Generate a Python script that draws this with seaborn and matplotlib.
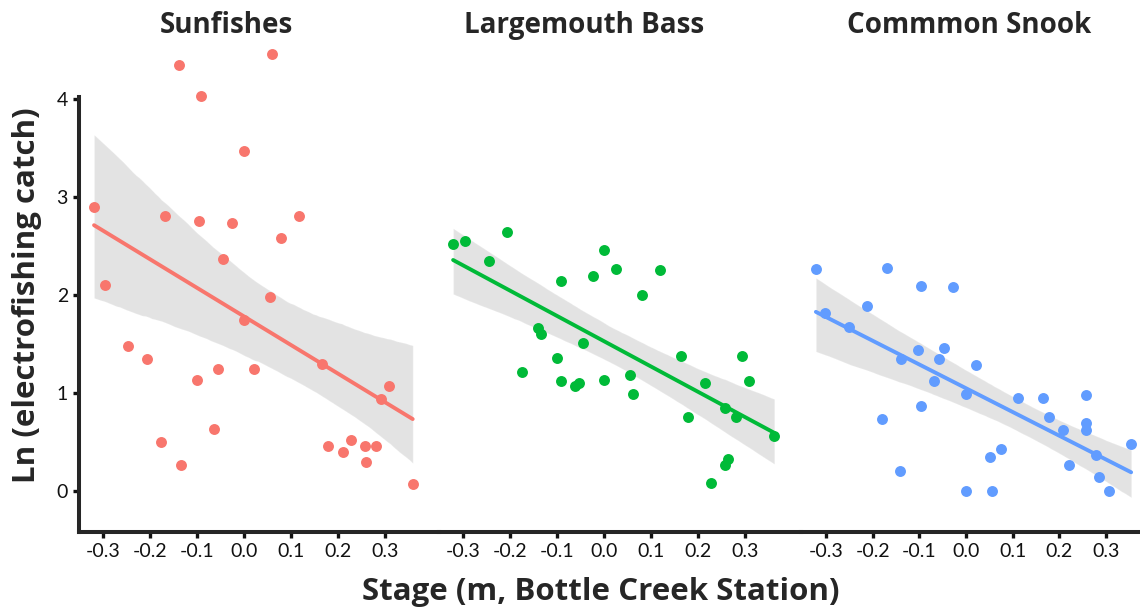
import numpy as np
import pandas as pd
import seaborn as sns
import matplotlib.pyplot as plt

# values
species = ['Sunfishes', 'Largemouth Bass', 'Commmon Snook']
colours = ['#F8766D', '#00BA38', '#619CFF']

sun_x = [-0.138, 0.060, -0.091, 0.001, -0.319, -0.167, -0.095, -0.026, 0.117, 0.078,
         -0.045, -0.295, 0.055, 0.001, -0.246, -0.207, -0.055, 0.021, -0.099, 0.167,
         0.309, 0.291, -0.064, -0.176, -0.133, 0.179, 0.210, 0.228, 0.257, 0.280,
         0.260, 0.359]
sun_y = [4.35, 4.46, 4.03, 3.47, 2.90, 2.81, 2.76, 2.73, 2.81, 2.58,
         2.37, 2.10, 1.98, 1.74, 1.48, 1.35, 1.25, 1.24, 1.13, 1.30,
         1.07, 0.94, 0.63, 0.50, 0.27, 0.46, 0.40, 0.52, 0.46, 0.46,
         0.30, 0.07]

bass_x = [-0.321, -0.296, -0.206, -0.244, 0.001, 0.026, -0.024, -0.091, 0.120, 0.080,
          -0.140, -0.133, -0.045, -0.099, -0.175, -0.091, -0.061, -0.054, 0.001, 0.056,
          0.062, 0.164, 0.294, 0.214, 0.308, 0.257, 0.281, 0.179, 0.362, 0.263,
          0.257, 0.227]
bass_y = [2.52, 2.55, 2.64, 2.35, 2.46, 2.27, 2.19, 2.14, 2.25, 2.00,
          1.66, 1.60, 1.51, 1.36, 1.21, 1.12, 1.07, 1.10, 1.13, 1.18,
          0.99, 1.38, 1.38, 1.10, 1.12, 0.85, 0.76, 0.76, 0.56, 0.33,
          0.27, 0.08]

snook_x = [-0.322, -0.170, -0.097, -0.029, -0.213, -0.303, -0.250, -0.103, -0.047, -0.139,
           -0.057, 0.021, -0.069, -0.001, 0.112, 0.165, 0.257, -0.097, 0.177, -0.181,
           0.257, 0.257, 0.208, 0.354, 0.278, 0.074, 0.051, 0.220, -0.142, 0.286,
           0.307, -0.001, 0.056]
snook_y = [2.27, 2.28, 2.09, 2.08, 1.89, 1.82, 1.67, 1.44, 1.46, 1.35,
           1.35, 1.29, 1.12, 0.99, 0.95, 0.95, 0.98, 0.87, 0.76, 0.74,
           0.69, 0.62, 0.62, 0.48, 0.37, 0.43, 0.35, 0.27, 0.20, 0.14,
           0.00, 0.00, 0.00]

x_ticks = [-0.3, -0.2, -0.1, 0.0, 0.1, 0.2, 0.3]
y_ticks = [0, 1, 2, 3, 4]

df = pd.concat([
    pd.DataFrame({'stage': sun_x, 'catch': sun_y, 'species': species[0]}),
    pd.DataFrame({'stage': bass_x, 'catch': bass_y, 'species': species[1]}),
    pd.DataFrame({'stage': snook_x, 'catch': snook_y, 'species': species[2]}),
])

sns.set_style('ticks')
plt.rcParams['font.family'] = ['Lato', 'DejaVu Sans']
bold_font = ['Open Sans', 'DejaVu Sans']

fig = plt.figure(figsize=(11.4, 6.12), dpi=100)
bottom, height = 0.1307, 0.7108
boxes = [[0.0693, bottom, 0.3158, height],
         [0.3851, bottom, 0.3175, height],
         [0.7026, bottom, 0.2974, height]]
xlims = [(-0.351, 0.415), (-0.351, 0.419), (-0.354, 0.373)]
title_x = [0.199, 0.512, 0.850]

for i, name in enumerate(species):
    ax = fig.add_axes(boxes[i])
    sub = df[df.species == name]
    # grey confidence band first, then points and fitted line on top
    sns.regplot(data=sub, x='stage', y='catch', ax=ax, scatter=False,
                color='#444444', line_kws={'linewidth': 0}, seed=1, n_boot=2000)
    sns.regplot(data=sub, x='stage', y='catch', ax=ax, ci=None, color=colours[i],
                scatter_kws={'s': 62, 'alpha': 1, 'linewidths': 0, 'clip_on': False},
                line_kws={'linewidth': 2.8})
    ax.set_xlim(*xlims[i])
    ax.set_ylim(-0.418, 4.02)
    ax.set_xticks(x_ticks)
    ax.set_xticklabels([f'{t:.1f}' for t in x_ticks])
    ax.set_xlabel('')
    ax.set_ylabel('')
    sns.despine(ax=ax, left=(i > 0))
    ax.spines['bottom'].set_linewidth(2.9)
    ax.spines['left'].set_linewidth(2.9)
    ax.tick_params(axis='x', length=4, width=2.4, labelsize=14, pad=4, colors='#111111')
    if i == 0:
        ax.set_yticks(y_ticks)
        ax.tick_params(axis='y', length=4, width=2.4, labelsize=14, pad=4, colors='#111111')
    else:
        ax.set_yticks([])
    ax.patch.set_alpha(0)
    fig.text(title_x[i], 0.958, name, ha='center', va='center',
             fontsize=20, fontweight='bold', family=bold_font)

fig.text(0.024, 0.518, 'Ln (electrofishing catch)', rotation=90, ha='center', va='center',
         fontsize=22.5, fontweight='bold', family=bold_font)
fig.text(0.527, 0.032, 'Stage (m, Bottle Creek Station)', ha='center', va='center',
         fontsize=22.5, fontweight='bold', family=bold_font)

fig.savefig('out.png', dpi=100)
